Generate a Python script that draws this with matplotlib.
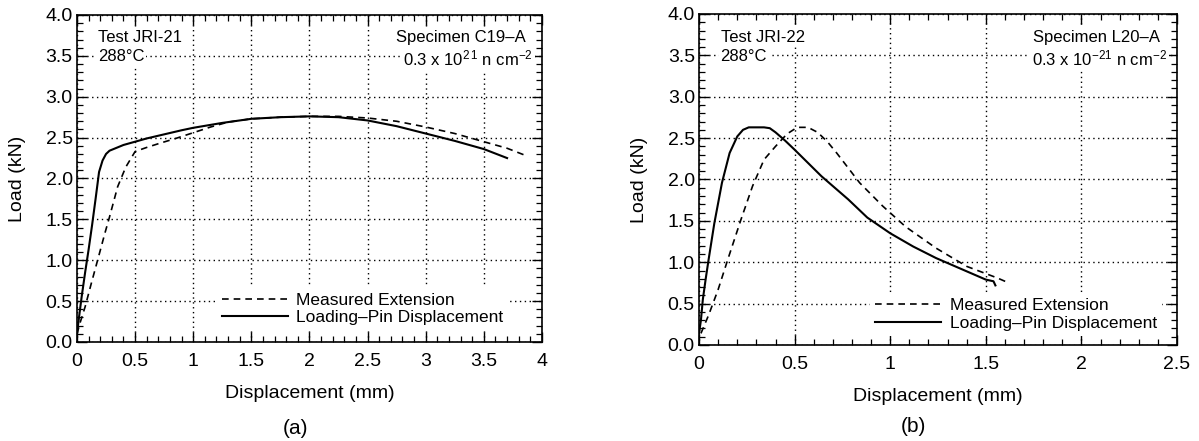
import matplotlib
matplotlib.use("Agg")
import matplotlib.pyplot as plt
from matplotlib.ticker import MultipleLocator, FormatStrFormatter

plt.rcParams["font.family"] = ["Liberation Sans", "DejaVu Sans"]
plt.rcParams["mathtext.fontset"] = "custom"
plt.rcParams["mathtext.rm"] = "Liberation Sans"
plt.rcParams["mathtext.it"] = "Liberation Sans"

# ---------------------------------------------------------------------------
# Data: panel (a), test JRI-21
a_pin_x = [0, 0.02, 0.04, 0.07, 0.1, 0.13, 0.16, 0.19, 0.22, 0.25, 0.28, 0.4, 0.5,
           0.6, 0.75, 0.9, 1.0, 1.25, 1.5, 1.75, 2.0, 2.25, 2.5, 2.75, 3.0, 3.25,
           3.5, 3.7]
a_pin_y = [0.1, 0.33, 0.55, 0.85, 1.13, 1.43, 1.75, 2.08, 2.22, 2.3, 2.34, 2.41, 2.45,
           2.49, 2.54, 2.59, 2.62, 2.68, 2.73, 2.75, 2.76, 2.75, 2.71, 2.64, 2.55,
           2.46, 2.36, 2.25]
a_ext_x = [0, 0.03, 0.07, 0.12, 0.185, 0.24, 0.28, 0.35, 0.42, 0.5, 0.6, 0.71, 0.85,
           1.0, 1.15, 1.3, 1.5, 1.75, 2.0, 2.25, 2.5, 2.75, 3.0, 3.25, 3.5, 3.7, 3.88]
a_ext_y = [0.1, 0.25, 0.43, 0.7, 1.04, 1.33, 1.53, 1.9, 2.14, 2.33, 2.38, 2.43, 2.49,
           2.56, 2.63, 2.69, 2.73, 2.75, 2.76, 2.76, 2.74, 2.70, 2.63, 2.55, 2.45,
           2.37, 2.27]

# Data: panel (b), test JRI-22
b_pin_x = [0, 0.01, 0.02, 0.035, 0.05, 0.08, 0.12, 0.16, 0.2, 0.23, 0.26, 0.3, 0.34,
           0.37, 0.4, 0.45, 0.5, 0.57, 0.64, 0.71, 0.78, 0.88, 1.0, 1.12, 1.24, 1.38,
           1.5, 1.54, 1.55]
b_pin_y = [0.14, 0.3, 0.55, 0.8, 1.03, 1.47, 1.96, 2.32, 2.52, 2.6, 2.63, 2.63, 2.63,
           2.62, 2.57, 2.47, 2.36, 2.2, 2.04, 1.9, 1.76, 1.54, 1.35, 1.19, 1.05, 0.91,
           0.79, 0.77, 0.72]
b_ext_x = [0.01, 0.05, 0.1, 0.15, 0.22, 0.28, 0.34, 0.4, 0.46, 0.5, 0.52, 0.57, 0.62,
           0.67, 0.72, 0.84, 0.96, 1.08, 1.24, 1.4, 1.56, 1.62]
b_ext_y = [0.14, 0.36, 0.67, 1.03, 1.52, 1.92, 2.24, 2.4, 2.55, 2.61, 2.63, 2.63, 2.57,
           2.46, 2.32, 1.96, 1.68, 1.43, 1.17, 0.95, 0.81, 0.75]

labels = ["Measured Extension", "Loading\u2013Pin Displacement"]

FS = 12          # annotations / legend
TICK_FS = 14     # tick labels
LABEL_FS = 14    # axis labels
WHITE_BOX = dict(fc="white", ec="none", pad=1.5)


def style_axes(ax, xmax):
    ax.set_xlim(0, xmax)
    ax.set_ylim(0, 4.0)
    ax.xaxis.set_major_locator(MultipleLocator(0.5))
    ax.xaxis.set_minor_locator(MultipleLocator(0.1))
    ax.yaxis.set_major_locator(MultipleLocator(0.5))
    ax.yaxis.set_minor_locator(MultipleLocator(0.1))
    ax.yaxis.set_major_formatter(FormatStrFormatter("%.1f"))
    ax.xaxis.set_major_formatter(plt.FuncFormatter(lambda v, p: f"{v:g}"))
    ax.tick_params(which="both", direction="in", top=True, right=True,
                   colors="black", labelsize=TICK_FS)
    ax.tick_params(which="major", length=7, width=1.0)
    ax.tick_params(which="minor", length=4, width=0.9)
    ax.tick_params(axis="x", pad=8)
    ax.tick_params(axis="y", pad=3)
    ax.grid(True, which="major", color="black", linestyle=(0, (1, 2.5)),
            linewidth=1.0)
    for sp in ax.spines.values():
        sp.set_linewidth(1.2)
    ax.set_xlabel("Displacement (mm)", fontsize=LABEL_FS, labelpad=11)
    ax.set_ylabel("Load (kN)", fontsize=LABEL_FS, labelpad=14)


def draw_panel(ax, ext_x, ext_y, pin_x, pin_y, xmax, test, spec, flux, leg_anchor):
    ext, = ax.plot(ext_x, ext_y, color="black", lw=1.2, linestyle=(0, (4, 3)))
    pin, = ax.plot(pin_x, pin_y, color="black", lw=1.5)
    style_axes(ax, xmax)

    ax.text(0.045, 0.93, test, transform=ax.transAxes, fontsize=FS,
            ha="left", va="center", bbox=WHITE_BOX)
    ax.text(0.045, 0.872, "288\u00b0C", transform=ax.transAxes, fontsize=FS,
            ha="left", va="center", bbox=WHITE_BOX)
    ax.text(0.965, 0.93, spec, transform=ax.transAxes, fontsize=FS,
            ha="right", va="center", bbox=WHITE_BOX)
    ax.text(0.98, 0.866, flux, transform=ax.transAxes, fontsize=FS,
            ha="right", va="center", bbox=WHITE_BOX)

    leg = ax.legend([ext, pin], labels, loc="lower left",
                    bbox_to_anchor=leg_anchor, fontsize=FS + 0.5,
                    handlelength=3.8, handletextpad=0.5, labelspacing=0.15,
                    borderpad=0.3, borderaxespad=0, frameon=True,
                    fancybox=False)
    leg.get_frame().set_facecolor("white")
    leg.get_frame().set_edgecolor("none")
    leg.get_frame().set_alpha(1.0)


fig = plt.figure(figsize=(11.99, 4.41), dpi=100)
ax_a = fig.add_axes([0.0642, 0.2245, 0.3878, 0.7415])
ax_b = fig.add_axes([0.583, 0.2177, 0.3987, 0.7506])

draw_panel(ax_a, a_ext_x, a_ext_y, a_pin_x, a_pin_y, 4.0,
           "Test JRI-21", "Specimen C19\u2013A",
           r"0.3 x 10$^{2\,1}$ n cm$^{-2}$", (0.30, 0.035))
draw_panel(ax_b, b_ext_x, b_ext_y, b_pin_x, b_pin_y, 2.5,
           "Test JRI-22", "Specimen L20\u2013A",
           r"0.3 x 10$^{-21}$ n cm$^{-2}$", (0.358, 0.027))

fig.text(296 / 1199, 1 - 428 / 441, "(a)", fontsize=15, ha="center", va="center")
fig.text(913 / 1199, 1 - 427 / 441, "(b)", fontsize=15, ha="center", va="center")

fig.savefig("out.png", dpi=100)
